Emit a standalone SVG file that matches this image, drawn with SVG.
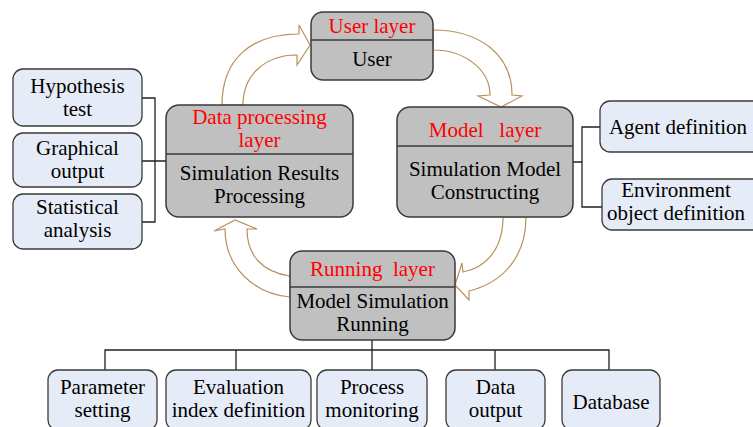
<svg xmlns="http://www.w3.org/2000/svg" width="753" height="427" viewBox="0 0 753 427">
<defs>
<style>
.layer{fill:#c0c0c0;stroke:#3a3a3a;stroke-width:1.5}
.div{stroke:#3a3a3a;stroke-width:1.5}
.leaf{fill:#e6ecf7;stroke:#3a3a3a;stroke-width:1.3}
.conn{fill:none;stroke:#222;stroke-width:1.3}
.arr{fill:#fff;stroke:#b8925e;stroke-width:1.2;stroke-linejoin:miter}
.t{font-family:'Liberation Serif',serif;font-size:21px;text-anchor:middle;fill:#000}
.r{fill:#ff0000}
</style>
</defs>
<rect width="753" height="427" fill="#fff"/>
<g id="connectors">
<path class="conn" d="M142,98 H155 V222 H142 M142,161 H166"/>
<path class="conn" d="M600,127 H582 V207 H602 M573,162 H582"/>
<path class="conn" d="M372,340 V350 M105,370 V350 H609 V370 M236,350 V370 M372,350 V370 M495,350 V370"/>
<path class="arr" d="M222,105 C222,60 250,34 299,34 L299,25 L310,45 L297,65 L297,55 C265,55 243,75 243,105 Z"/>
<path class="arr" d="M433,30 C480,30 512,55 512,95 L522,96 L501,107 L478,96 L490,95 C490,70 465,50 433,50 Z"/>
<path class="arr" d="M503,217 C503,250 485,268 463,272 L462,263 L455,285 L469,300 L469,291 C505,282 526,255 526,217 Z"/>
<path class="arr" d="M290,276 C262,272 247,255 247,229 L257,229 L235,220 L214,231 L225,229 C225,268 255,294 290,297 Z"/>
</g>
<g id="user">
<rect class="layer" x="311" y="12" width="122" height="68" rx="12"/>
<line class="div" x1="311" y1="40" x2="433" y2="40"/>
<text class="t r" font-family="Liberation Serif" x="372" y="33">User layer</text>
<text class="t" font-family="Liberation Serif" x="372" y="66">User</text>
</g>
<g id="dataproc">
<rect class="layer" x="166" y="105" width="187" height="112" rx="13"/>
<line class="div" x1="166" y1="154" x2="353" y2="154"/>
<text class="t r" font-family="Liberation Serif" x="259.5" y="124">Data processing</text>
<text class="t r" font-family="Liberation Serif" x="259.5" y="147">layer</text>
<text class="t" font-family="Liberation Serif" x="259.5" y="180">Simulation Results</text>
<text class="t" font-family="Liberation Serif" x="259.5" y="203">Processing</text>
</g>
<g id="model">
<rect class="layer" x="397" y="107" width="176" height="110" rx="13"/>
<line class="div" x1="397" y1="146" x2="573" y2="146"/>
<text class="t r" font-family="Liberation Serif" x="485" y="137">Model&#160;&#160; layer</text>
<text class="t" font-family="Liberation Serif" x="485" y="176">Simulation Model</text>
<text class="t" font-family="Liberation Serif" x="485" y="199">Constructing</text>
</g>
<g id="running">
<rect class="layer" x="290" y="251" width="165" height="89" rx="12"/>
<line class="div" x1="290" y1="287" x2="455" y2="287"/>
<text class="t r" font-family="Liberation Serif" x="372.5" y="276">Running&#160; layer</text>
<text class="t" font-family="Liberation Serif" x="372.5" y="308">Model Simulation</text>
<text class="t" font-family="Liberation Serif" x="372.5" y="331">Running</text>
</g>
<g id="hypothesis">
<rect class="leaf" x="13" y="69" width="129" height="57" rx="10"/>
<text class="t" font-family="Liberation Serif" x="77.5" y="93">Hypothesis</text>
<text class="t" font-family="Liberation Serif" x="77.5" y="116">test</text>
</g>
<g id="graphical">
<rect class="leaf" x="13" y="133" width="129" height="54" rx="10"/>
<text class="t" font-family="Liberation Serif" x="77.5" y="155">Graphical</text>
<text class="t" font-family="Liberation Serif" x="77.5" y="178">output</text>
</g>
<g id="statistical">
<rect class="leaf" x="13" y="194" width="129" height="55" rx="10"/>
<text class="t" font-family="Liberation Serif" x="77.5" y="214">Statistical</text>
<text class="t" font-family="Liberation Serif" x="77.5" y="237">analysis</text>
</g>
<g id="agent">
<rect class="leaf" x="600" y="101" width="165" height="51" rx="10"/>
<text class="t" font-family="Liberation Serif" x="678" y="134">Agent definition</text>
</g>
<g id="environment">
<rect class="leaf" x="602" y="179" width="165" height="51" rx="10"/>
<text class="t" font-family="Liberation Serif" x="676" y="197">Environment</text>
<text class="t" font-family="Liberation Serif" x="676" y="220">object definition</text>
</g>
<g id="parameter">
<rect class="leaf" x="48" y="370" width="109" height="60" rx="10"/>
<text class="t" font-family="Liberation Serif" x="102.5" y="394">Parameter</text>
<text class="t" font-family="Liberation Serif" x="102.5" y="417">setting</text>
</g>
<g id="evaluation">
<rect class="leaf" x="166" y="370" width="145" height="60" rx="10"/>
<text class="t" font-family="Liberation Serif" x="238.5" y="394">Evaluation</text>
<text class="t" font-family="Liberation Serif" x="238.5" y="417">index definition</text>
</g>
<g id="process">
<rect class="leaf" x="317" y="370" width="110" height="60" rx="10"/>
<text class="t" font-family="Liberation Serif" x="372" y="394">Process</text>
<text class="t" font-family="Liberation Serif" x="372" y="417">monitoring</text>
</g>
<g id="dataoutput">
<rect class="leaf" x="446" y="370" width="99" height="60" rx="10"/>
<text class="t" font-family="Liberation Serif" x="495.5" y="394">Data</text>
<text class="t" font-family="Liberation Serif" x="495.5" y="417">output</text>
</g>
<g id="database">
<rect class="leaf" x="562" y="370" width="98" height="60" rx="10"/>
<text class="t" font-family="Liberation Serif" x="611" y="409">Database</text>
</g>
</svg>
